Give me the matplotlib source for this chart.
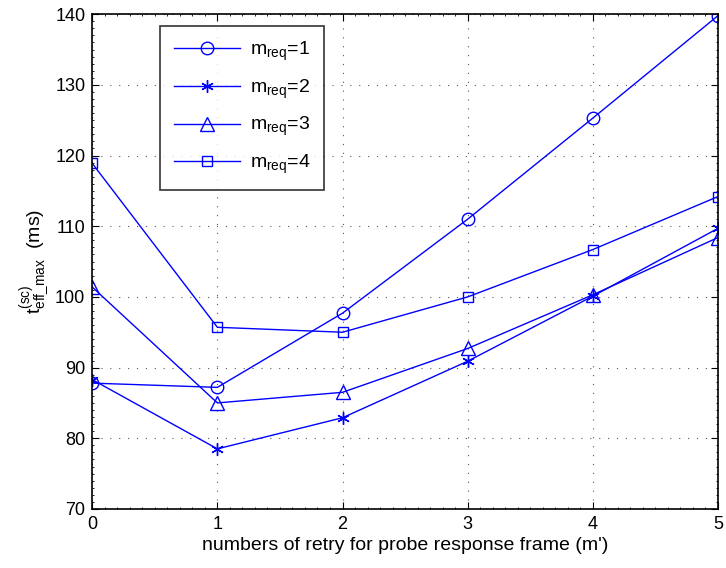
import numpy as np
import matplotlib
matplotlib.use("Agg")
import matplotlib.pyplot as plt
from matplotlib.ticker import MultipleLocator

plt.rcParams['font.family'] = ['Liberation Sans', 'DejaVu Sans']
plt.rcParams['mathtext.fontset'] = 'custom'
plt.rcParams['mathtext.rm'] = 'Liberation Sans'
plt.rcParams['mathtext.it'] = 'Liberation Sans'

retries = [0, 1, 2, 3, 4, 5]
m_req_1 = [87.8, 87.2, 97.7, 111.0, 125.3, 139.8]
m_req_2 = [88.3, 78.5, 82.9, 90.9, 100.1, 109.7]
m_req_3 = [101.4, 85.0, 86.5, 92.7, 100.3, 108.4]
m_req_4 = [118.9, 95.7, 95.0, 100.0, 106.7, 114.2]

series = [
    (m_req_1, 'o', 9, r'm$_{\mathrm{req}}$=1'),
    (m_req_2, (6, 2, 0), 9, r'm$_{\mathrm{req}}$=2'),
    (m_req_3, '^', 10, r'm$_{\mathrm{req}}$=3'),
    (m_req_4, 's', 7, r'm$_{\mathrm{req}}$=4'),
]

fig = plt.figure(figsize=(7.26, 5.68), dpi=100)
ax = fig.add_axes([0.127, 0.104, 0.862, 0.871])

for vals, mk, ms, lab in series:
    ax.plot(retries, vals, color='blue', linewidth=1.0, marker=mk,
            markersize=ms, markerfacecolor='none', markeredgecolor='blue',
            markeredgewidth=1.0, label=lab)

ax.set_xlim(0, 5)
ax.set_ylim(70, 140)
ax.xaxis.set_major_locator(MultipleLocator(1))
ax.yaxis.set_major_locator(MultipleLocator(10))
ax.xaxis.set_minor_locator(MultipleLocator(0.1))
ax.yaxis.set_minor_locator(MultipleLocator(1))
ax.tick_params(which='both', direction='in', top=True, right=True,
               labelsize=13, pad=5)
ax.tick_params(which='major', length=5, width=0.8)
ax.tick_params(which='minor', length=1.5, width=0.6)
for s in ax.spines.values():
    s.set_linewidth(1.2)

ax.grid(True, which='major', color='0.35', linestyle=(0, (1, 7)),
        linewidth=0.8)

ax.set_xlabel("numbers of retry for probe response frame (m')", fontsize=14,
              labelpad=3)
ax.set_ylabel(r'$\mathrm{t}^{(\mathrm{sc})}_{\mathrm{eff\_max}}$  (ms)',
              fontsize=14, labelpad=2)

leg = ax.legend(loc='upper left', bbox_to_anchor=(0.109, 0.976), fontsize=14,
                frameon=True, fancybox=False, edgecolor='black',
                handlelength=3.4, borderpad=0.7, labelspacing=0.75,
                handletextpad=0.5, borderaxespad=0)
leg.get_frame().set_linewidth(1.2)

fig.savefig("out.png", dpi=100)
